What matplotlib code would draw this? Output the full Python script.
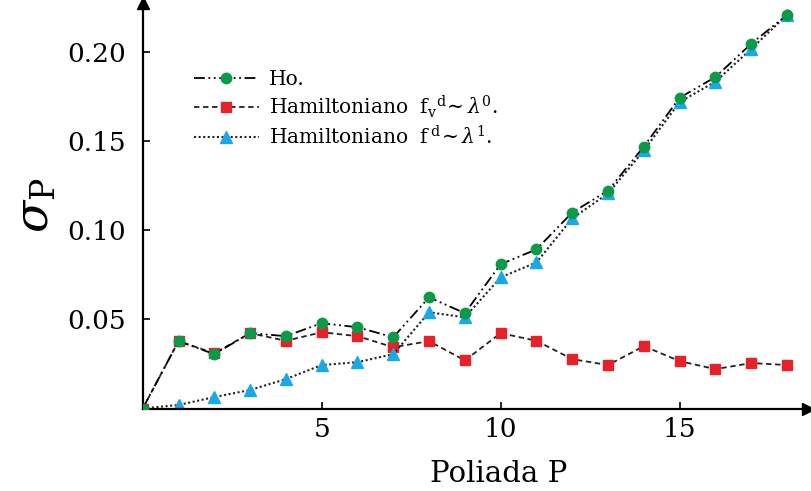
import matplotlib.pyplot as plt
import numpy as np

plt.rcParams['font.family'] = ['DejaVu Serif']
plt.rcParams['mathtext.fontset'] = 'dejavuserif'

# Poliada P
P = list(range(0, 19))

# sigma_P, Ho.
sigma_ho = [0.0, 0.0378, 0.0305, 0.0423, 0.0406, 0.0479, 0.0456, 0.0400, 0.0624,
            0.0535, 0.0810, 0.0893, 0.1100, 0.1223, 0.1470, 0.1744, 0.1860,
            0.2047, 0.2209]
# Hamiltoniano f_v^d ~ lambda^0
sigma_h0 = [0.0, 0.0378, 0.0310, 0.0423, 0.0380, 0.0428, 0.0406, 0.0344, 0.0378,
            0.0270, 0.0423, 0.0380, 0.0277, 0.0244, 0.0350, 0.0266, 0.0221,
            0.0255, 0.0244]
# Hamiltoniano f^d ~ lambda^1
sigma_h1 = [0.0, 0.0020, 0.0064, 0.0104, 0.0165, 0.0244, 0.0260, 0.0305, 0.0540,
            0.0512, 0.0736, 0.0820, 0.1067, 0.1207, 0.1448, 0.1720, 0.1834,
            0.2018, 0.2209]

labels = ['Ho.',
          r'Hamiltoniano  f$_{\mathrm{v}}{}^{\mathrm{d}}\!\sim\lambda^{0}$.',
          r'Hamiltoniano  f$\,{}^{\mathrm{d}}\!\sim\lambda^{1}$.']

fig = plt.figure(figsize=(8.11, 4.91), dpi=100)
ax = fig.add_axes([0.176, 0.168, 0.82, 0.826])

ax.plot(P, sigma_ho, color='black', linestyle=(0, (6, 2, 1, 2, 1, 2)), lw=1.3,
        marker='o', markersize=7.5, markerfacecolor='#0a9a48', markeredgecolor='#0a9a48',
        label=labels[0], zorder=3)
ax.plot(P, sigma_h0, color='#222222', linestyle=(0, (3, 2)), lw=1.3,
        marker='s', markersize=7.5, markerfacecolor='#e8202a', markeredgecolor='#e8202a',
        label=labels[1], zorder=2)
ax.plot(P, sigma_h1, color='#222222', linestyle=(0, (1, 1.2)), lw=1.5,
        marker='^', markersize=8, markerfacecolor='#19a9e8', markeredgecolor='#19a9e8',
        label=labels[2], zorder=2)

ax.set_xlim(0, 18.58)
ax.set_ylim(0, 0.2276)
ax.set_xticks([5, 10, 15])
ax.set_yticks([0.05, 0.10, 0.15, 0.20])
ax.set_yticklabels(['0.05', '0.10', '0.15', '0.20'])
ax.tick_params(direction='in', length=5, width=1.2, labelsize=19, pad=6)
ax.tick_params(axis='y', pad=12)

for s in ['top', 'right']:
    ax.spines[s].set_visible(False)
for s in ['left', 'bottom']:
    ax.spines[s].set_linewidth(1.6)

# flechas de los ejes
ax.plot(1, 0, '>', color='black', markersize=8, transform=ax.transAxes, clip_on=False)
ax.plot(0, 1, '^', color='black', markersize=8, transform=ax.transAxes, clip_on=False)

ax.set_xlabel('Poliada P', fontsize=21)
ax.xaxis.set_label_coords(0.535, -0.128)
ax.set_ylabel(r'$\sigma_{\mathrm{P}}$', fontsize=34, rotation=90, labelpad=6)

leg = ax.legend(loc='upper left', bbox_to_anchor=(0.05, 0.88), frameon=False,
                fontsize=14.5, handlelength=3.2, labelspacing=0.25, handletextpad=0.5)

fig.savefig('out.png', dpi=100)
